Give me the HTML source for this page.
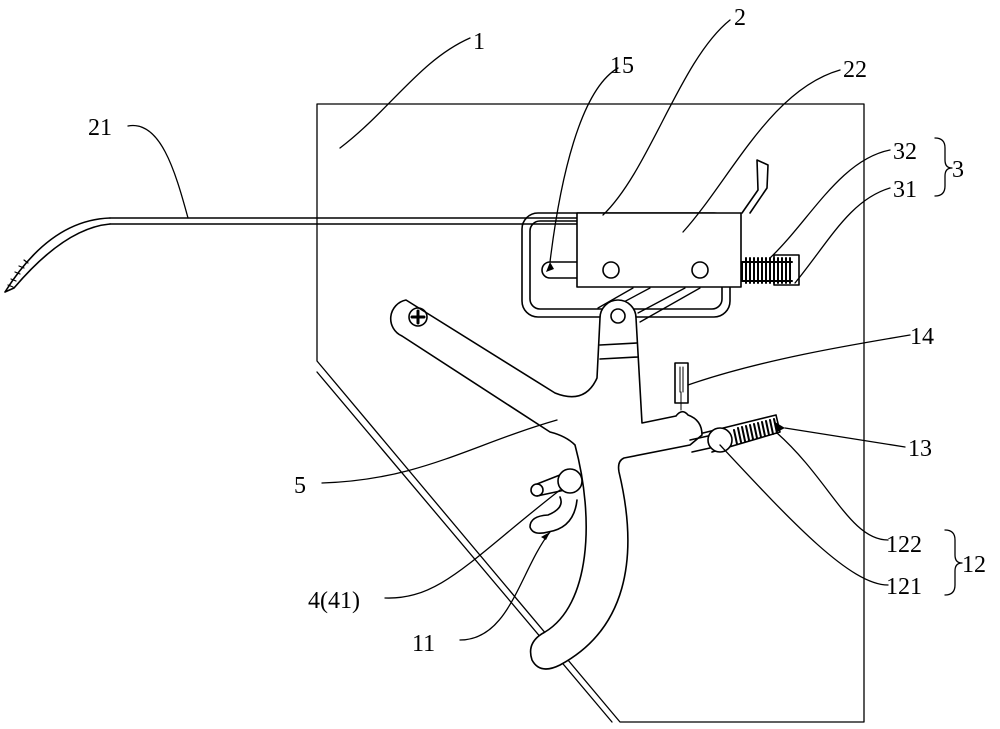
<!DOCTYPE html>
<html><head><meta charset="utf-8"><style>
html,body{margin:0;padding:0;background:#fff;}
svg{display:block}
text{font-family:"Liberation Serif",serif;font-size:24px;fill:#000}
</style></head><body>
<svg width="1000" height="729" viewBox="0 0 1000 729" xmlns="http://www.w3.org/2000/svg">
<g fill="none" stroke="#000" stroke-width="1.6" stroke-linejoin="round" stroke-linecap="round">
<path d="M317,361 L317,104 L864,104 L864,722 L620,722 L317,361" stroke-width="1.3"/>
<path d="M317,372 L612,722" stroke-width="1.3"/>
<path d="M110,218 L577,218 M110,224 L577,224"/>
<path d="M110,218 Q50,220 5,292 M110,224 Q65,228 14,288 M5,292 L14,288"/>
<path d="M8,285 l5,2 M11,279 l5,2 M15,272 l5,2 M19,266 l5,2 M24,260 l4,3" stroke-width="1.2"/>
<rect x="522" y="213" width="208" height="104" rx="16"/>
<rect x="530" y="221" width="192" height="88" rx="10"/>
<path d="M577,262 L550,262 A8,8 0 0 0 550,278 L577,278"/>
<rect x="577" y="213" width="164" height="74" fill="#fff"/>
<circle cx="611" cy="270" r="8"/><circle cx="700" cy="270" r="8"/>
<path d="M742,213 L758,190 L757,160 L768,165 L767,188 L750,213"/>
<rect x="774" y="255" width="25" height="30"/>
<path d="M742,262 L742,281 M746,258 l0,25 M750,258 l0,25 M754,258 l0,25 M758,258 l0,25 M762,258 l0,25 M766,258 l0,25 M770,258 l0,25 M774,258 l0,25 M778,258 l0,25 M782,258 l0,25 M786,258 l0,25 M790,258 l0,25 M742,262 L792,262 M742,281 L792,281" stroke-width="2"/>
<path d="M633,288 L598,308 M650,288 L605,312 M685,288 L638,313 M700,288 L640,322" stroke-width="1.3"/>
<path d="M406,300 L555,393 Q585,405 597,378 L600,318 A18,18 0 0 1 636,318 L642,423 L676,416 Q682,408 688,415 Q702,420 702,435 L690,445 L624,458 Q617,461 619,472 C640,560 625,630 560,665 Q540,675 532,660 Q526,642 545,632 C590,605 595,520 575,445 Q566,436 550,432 L402,336 A19,19 0 0 1 406,300 Z" fill="#fff"/>
<circle cx="418" cy="317" r="9"/>
<path d="M412,317 L424,317 M418,311 L418,323" stroke-width="3"/>
<circle cx="618" cy="316" r="7"/>
<path d="M600,345 L637,343 M600,359 L638,357"/>
<path d="M537,484 L565,473 M537,496 L565,490"/>
<circle cx="537" cy="490" r="6"/>
<circle cx="570" cy="481" r="12" fill="#fff"/>
<path d="M560,497 Q565,508 548,515 Q530,516 530,527 Q533,536 548,532 Q574,528 577,500"/>
<rect x="675" y="363" width="13" height="40"/>
<path d="M680,367 L680,392 M683,367 L683,392 M681,392 L681,410" stroke-width="1"/>
<path d="M703,433 L776,415 L780,432 L712,452" />
<path d="M690,440 L708,436 M692,452 L710,448" />
<circle cx="720" cy="440" r="12" fill="#fff"/>
<path d="M734,430 l3,14 M738,428 l3,14 M742,427 l3,14 M746,426 l3,14 M750,425 l3,14 M754,424 l3,14 M758,423 l3,14 M762,422 l3,14 M766,421 l3,14 M770,420 l3,14 M774,419 l3,14" stroke-width="2"/>
<path d="M340,148 C390,110 420,60 470,38" stroke-width="1.3"/>
<path d="M603,215 C650,170 680,60 730,20" stroke-width="1.3"/>
<path d="M683,232 C730,180 770,90 840,70" stroke-width="1.3"/>
<path d="M618,68 C580,90 560,180 550,262" stroke-width="1.3"/>
<path d="M128,126 C160,120 175,170 188,218" stroke-width="1.3"/>
<path d="M770,258 C810,220 840,160 890,150" stroke-width="1.3"/>
<path d="M795,283 C830,240 850,200 890,188" stroke-width="1.3"/>
<path d="M688,385 C760,360 850,345 910,335" stroke-width="1.3"/>
<path d="M785,428 L905,447" stroke-width="1.3"/>
<path d="M322,483 C420,480 470,445 557,420" stroke-width="1.3"/>
<path d="M777,433 C830,480 850,540 888,540" stroke-width="1.3"/>
<path d="M720,445 C790,520 850,585 888,585" stroke-width="1.3"/>
<path d="M385,598 C440,600 470,560 560,490" stroke-width="1.3"/>
<path d="M460,640 C510,640 520,570 550,532" stroke-width="1.3"/>
<path d="M935,138 Q945,138 945,148 L945,160 Q945,168 952,168 Q945,168 945,176 L945,186 Q945,196 935,196" stroke-width="1.3"/>
<path d="M945,530 Q955,530 955,540 L955,555 Q955,563 962,563 Q955,563 955,571 L955,585 Q955,595 945,595" stroke-width="1.3"/>
</g>
<g fill="#000">
<path d="M550,262 l-4,10 l8,-3 z"/>
<path d="M785,428 l-10,-6 l2,10 z"/>
<path d="M550,532 l-9,5 l5,3 z"/>
</g>
<text x="473" y="49">1</text>
<text x="734" y="25">2</text>
<text x="843" y="77">22</text>
<text x="610" y="73">15</text>
<text x="88" y="135">21</text>
<text x="893" y="159">32</text>
<text x="893" y="197">31</text>
<text x="952" y="177">3</text>
<text x="910" y="344">14</text>
<text x="908" y="456">13</text>
<text x="294" y="493">5</text>
<text x="886" y="552">122</text>
<text x="886" y="594">121</text>
<text x="962" y="572">12</text>
<text x="308" y="608">4(41)</text>
<text x="412" y="651">11</text>
</svg>
</body></html>
